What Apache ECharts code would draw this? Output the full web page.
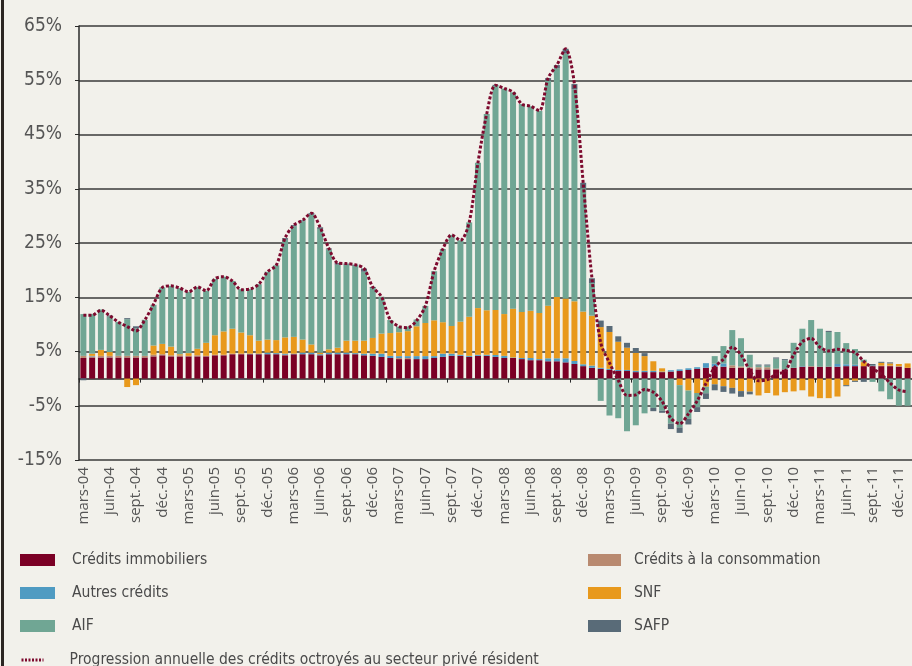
<!DOCTYPE html>
<html>
<head>
<meta charset="utf-8">
<script src="https://cdn.jsdelivr.net/npm/echarts@6/dist/echarts.min.js"></script>
<style>
html,body{margin:0;padding:0;background:#f2f1eb;}
#c{width:912px;height:666px;}
</style>
</head>
<body>
<div id="c"></div>
<script>
var categories = [
'mars-04','avr.-04','mai-04','juin-04','juil.-04','août-04','sept.-04','oct.-04','nov.-04','déc.-04',
'janv.-05','févr.-05','mars-05','avr.-05','mai-05','juin-05','juil.-05','août-05','sept.-05','oct.-05','nov.-05','déc.-05',
'janv.-06','févr.-06','mars-06','avr.-06','mai-06','juin-06','juil.-06','août-06','sept.-06','oct.-06','nov.-06','déc.-06',
'janv.-07','févr.-07','mars-07','avr.-07','mai-07','juin-07','juil.-07','août-07','sept.-07','oct.-07','nov.-07','déc.-07',
'janv.-08','févr.-08','mars-08','avr.-08','mai-08','juin-08','juil.-08','août-08','sept.-08','oct.-08','nov.-08','déc.-08',
'janv.-09','févr.-09','mars-09','avr.-09','mai-09','juin-09','juil.-09','août-09','sept.-09','oct.-09','nov.-09','déc.-09',
'janv.-10','févr.-10','mars-10','avr.-10','mai-10','juin-10','juil.-10','août-10','sept.-10','oct.-10','nov.-10','déc.-10',
'janv.-11','févr.-11','mars-11','avr.-11','mai-11','juin-11','juil.-11','août-11','sept.-11','oct.-11','nov.-11','déc.-11',
'janv.-12'
];

var creditsImmobiliers = [
3.8,3.9,3.9,3.9,3.9,3.9,3.9,3.9,4.1,4.3,
4.1,4.1,4.1,4.1,4.1,4.3,4.3,4.5,4.5,4.5,
4.5,4.5,4.5,4.3,4.5,4.5,4.5,4.3,4.5,4.5,
4.5,4.5,4.3,4.2,4.0,3.8,3.6,3.6,3.6,3.6,
3.8,4.0,4.2,4.2,4.0,4.2,4.2,4.0,3.8,3.8,
3.6,3.4,3.4,3.2,3.2,3.0,2.7,2.3,2.0,1.8,
1.6,1.4,1.4,1.2,1.2,1.2,1.2,1.3,1.4,1.6,
1.8,2.0,2.2,2.2,2.0,2.0,1.9,1.7,1.7,1.7,
1.7,2.0,2.2,2.2,2.2,2.2,2.2,2.3,2.3,2.3,
2.3,2.3,2.3,2.2,2.0];

var creditsConsommation = [
0.4,0.2,0.3,0.3,0.3,0.3,0.3,0.3,0.3,0.2,
0.2,0.2,0.1,0.2,0.1,0.1,0.1,0.1,0.1,0,
0,0,0,0.1,0,0,0,0,0,0,
0,0,0,0,0,0,0.2,0.2,0,0,
0,0,0,0,0,0,0,0,0,0,
0,0,0,0,0,0,0,0,0,0,
0,0,0,0,0,0,0,0,0,0,
0,0,0,0,0.45,0.25,0.2,0.4,0.4,0.15,
0,0,0,0.1,0,0,0,0,0,0,
0,0.1,0.1,0.1,0];

var autresCredits = [
-0.1,0.1,0,0,0,0,0,0,0,0,
0,0,0,0,0,0,0,0,0,0.1,
0.1,0.3,0.2,0.2,0.1,0.3,0.3,0.2,0.3,0.3,
0.3,0.2,0.3,0.4,0.6,0.4,0.35,0.35,0.55,0.55,
0.35,0.6,0.4,0.2,0.2,0.2,0.2,0.35,0.4,0.1,
0.2,0.4,0.2,0.55,0.55,0.75,0.55,0.35,0.4,0.2,
0.2,0.2,0.2,0.25,0.25,0.25,0.1,0.25,0.3,0.3,
0.3,0.85,0.55,0.6,0,0,0,0,0,0,
0,0,0.1,0,0,0,0.5,0.35,0.25,0,
0.1,0,0,0,0];

var snf = [
0,0.4,1.1,0.7,0,-1.55,-1.2,0,1.7,1.9,
1.6,0.2,0.5,1.2,2.4,3.6,4.3,4.6,3.9,3.4,
2.4,2.4,2.4,3.0,3.1,2.4,1.5,0.3,0.6,0.9,
2.2,2.3,2.4,2.9,3.7,4.2,4.4,4.6,5.5,6.1,
6.6,5.8,5.1,6.1,7.2,8.6,8.2,8.3,7.7,9.0,
8.5,8.7,8.5,9.7,11.3,11.0,11.0,9.7,9.2,7.5,
6.8,5.2,4.1,3.3,2.7,1.75,0.6,0,-1.2,-2.2,
-2.65,-1.5,-1.05,-1.4,-1.7,-2.3,-2.4,-3.1,-2.65,-3.1,
-2.5,-2.35,-2.15,-3.3,-3.6,-3.6,-3.3,-1.2,-0.4,0.75,
0,0.5,0.4,0.4,0.8];

var aif = [
7.7,7.3,7.45,6.55,6.25,6.75,5.05,6.65,7.5,10.4,
11.2,12.2,11.3,11.4,9.6,10.4,10.1,8.8,8.0,8.5,
10.4,12.5,13.8,18.0,20.4,21.8,23.9,22.8,18.4,15.3,
14.0,13.8,12.7,9.2,6.8,2.4,1.05,0.85,1.25,3.15,
9.05,13.5,16.8,15.0,17.4,26.8,36.2,41.3,41.6,39.9,
38.3,37.7,37.3,41.45,42.15,45.15,39.05,22.75,6.0,-4.1,
-6.8,-7.3,-9.7,-8.6,-6.4,-5.4,-5.9,-8.3,-7.8,-5.2,
-2.6,-1.2,1.4,3.2,6.5,5.2,2.3,0.3,0.3,1.85,
1.7,4.6,6.9,8.5,7.0,6.4,5.9,3.9,2.9,0.45,
-0.6,-2.35,-3.8,-5.0,-5.0];

var safp = [
-0.2,0,0,0.2,0,0.2,0.4,0,0,0,
0,0,0,0,0,0,0,0,-0.2,0,
0,0,0,0.3,0.2,0.2,0.3,0.3,0.2,0.3,
0.2,0.2,0.6,0.2,0,0,0,-0.2,-0.2,0,
0,0,0,0,0,0,0,0.2,0,0,
0,0,0,0.5,0.6,0.9,1.0,1.0,0.9,1.2,
1.1,1.0,0.9,0.9,0.55,-0.6,-0.4,-1.0,-1.0,-1.05,
-0.9,-1.05,-1.1,-1.05,-1.05,-1.05,-0.5,0.2,0.2,0.2,
0.2,0,0,0,0,0.2,0,-0.2,-0.2,-0.6,
0.3,0.2,0.2,0,0];

var progression = [
11.7,11.7,12.6,11.6,10.4,9.6,8.8,10.8,13.7,16.8,
17.1,16.7,16.0,16.9,16.2,18.4,18.8,18.0,16.4,16.5,
17.4,19.7,20.9,25.9,28.3,29.2,30.5,27.9,24.0,21.3,
21.2,21.0,20.3,16.9,15.1,10.8,9.6,9.4,10.7,13.4,
19.8,23.9,26.5,25.5,28.8,39.8,48.8,54.1,53.5,52.8,
50.6,50.2,49.4,55.4,57.8,60.8,54.3,36.1,18.5,6.6,
2.9,-0.3,-3.1,-3.0,-2.0,-2.5,-4.2,-7.3,-8.3,-6.5,
-4.1,-0.9,2.1,3.6,5.8,4.4,1.5,-0.4,-0.2,0.8,
1.3,4.4,6.8,7.4,5.8,5.1,5.4,5.2,4.8,3.2,
1.9,0.8,-0.8,-2.1,-2.4];

var yTicks = { min: -15, max: 65, interval: 10 };

var names = {
  immo: 'Crédits immobiliers',
  conso: 'Crédits à la consommation',
  autres: 'Autres crédits',
  snf: 'SNF',
  aif: 'AIF',
  safp: 'SAFP',
  line: 'Progression annuelle des crédits octroyés au secteur privé résident'
};
var colors = {
  immo: '#7b0025', conso: '#b98a70', autres: '#4f9bc2',
  snf: '#e8991c', aif: '#70a694', safp: '#596b78', line: '#7d0a2e'
};

var numFont = "'DejaVu Sans Condensed','Liberation Sans Narrow',sans-serif";
var txtFont = "'Open Sans',sans-serif";

function barSeries(key, data) {
  return {
    name: names[key], type: 'bar', stack: 'total', stackStrategy: 'samesign',
    xAxisIndex: 0, yAxisIndex: 0, data: data, barWidth: 6,
    itemStyle: { color: colors[key] }, emphasis: { disabled: true }
  };
}

var legendText = { color: '#4a4a4a', fontFamily: numFont, fontSize: 15.5, lineHeight: 14 };

var chart = echarts.init(document.getElementById('c'), null, { renderer: 'canvas' });
chart.setOption({
  animation: false,
  backgroundColor: '#f2f1eb',
  grid: { left: 79, top: 26, width: 836, height: 434 },
  graphic: [{ type: 'rect', shape: { x: 1, y: 0, width: 3, height: 666 }, style: { fill: '#2b2622' } }],
  xAxis: [
    {
      type: 'category', data: categories, position: 'bottom', boundaryGap: true,
      axisLine: { show: false, onZero: false }, axisTick: { show: false },
      axisLabel: { interval: 2, rotate: 90, color: '#555', fontFamily: txtFont, fontSize: 15, margin: 7 }
    },
    {
      type: 'category', data: categories, position: 'top', boundaryGap: true,
      axisLine: { show: true, onZero: true, lineStyle: { color: '#2a2a2a', width: 1.5 } },
      axisTick: { show: true, inside: true, length: 4, lineStyle: { color: '#2a2a2a' } },
      axisLabel: { show: false }
    }
  ],
  yAxis: {
    type: 'value', min: yTicks.min, max: yTicks.max, interval: yTicks.interval,
    axisLine: { show: true, lineStyle: { color: '#2a2a2a', width: 1.5 } },
    axisTick: { show: true, length: 4, lineStyle: { color: '#2a2a2a' } },
    splitLine: { show: true, lineStyle: { color: '#3a3a3a', width: 1.5 } },
    axisLabel: { formatter: '{value}%', color: '#555', fontFamily: numFont, fontSize: 19, margin: 17 }
  },
  legend: [
    {
      left: 15, top: 547, orient: 'vertical', itemWidth: 35, itemHeight: 12, itemGap: 17,
      data: [names.immo, names.autres, names.aif], icon: 'rect',
      textStyle: Object.assign({ padding: [0, 0, 0, 12] }, legendText)
    },
    {
      left: 583, top: 547, orient: 'vertical', itemWidth: 33, itemHeight: 12, itemGap: 17,
      data: [names.conso, names.snf, names.safp], icon: 'rect',
      textStyle: Object.assign({ padding: [0, 0, 0, 8] }, legendText)
    },
    {
      left: 15, top: 647, itemWidth: 22, itemHeight: 12,
      data: [names.line],
      itemStyle: { opacity: 0 },
      lineStyle: { color: colors.line, width: 3, type: [2, 1.5] },
      textStyle: Object.assign({ padding: [0, 0, 0, 21] }, legendText)
    }
  ],
  series: [
    barSeries('immo', creditsImmobiliers),
    barSeries('conso', creditsConsommation),
    barSeries('autres', autresCredits),
    barSeries('snf', snf),
    barSeries('aif', aif),
    barSeries('safp', safp),
    {
      name: names.line, type: 'line', xAxisIndex: 0, yAxisIndex: 0, data: progression,
      smooth: 0.3, symbol: 'none', z: 5,
      lineStyle: { color: colors.line, width: 3, type: [3, 2] },
      itemStyle: { color: colors.line },
      emphasis: { disabled: true }
    }
  ]
});
</script>
</body>
</html>
